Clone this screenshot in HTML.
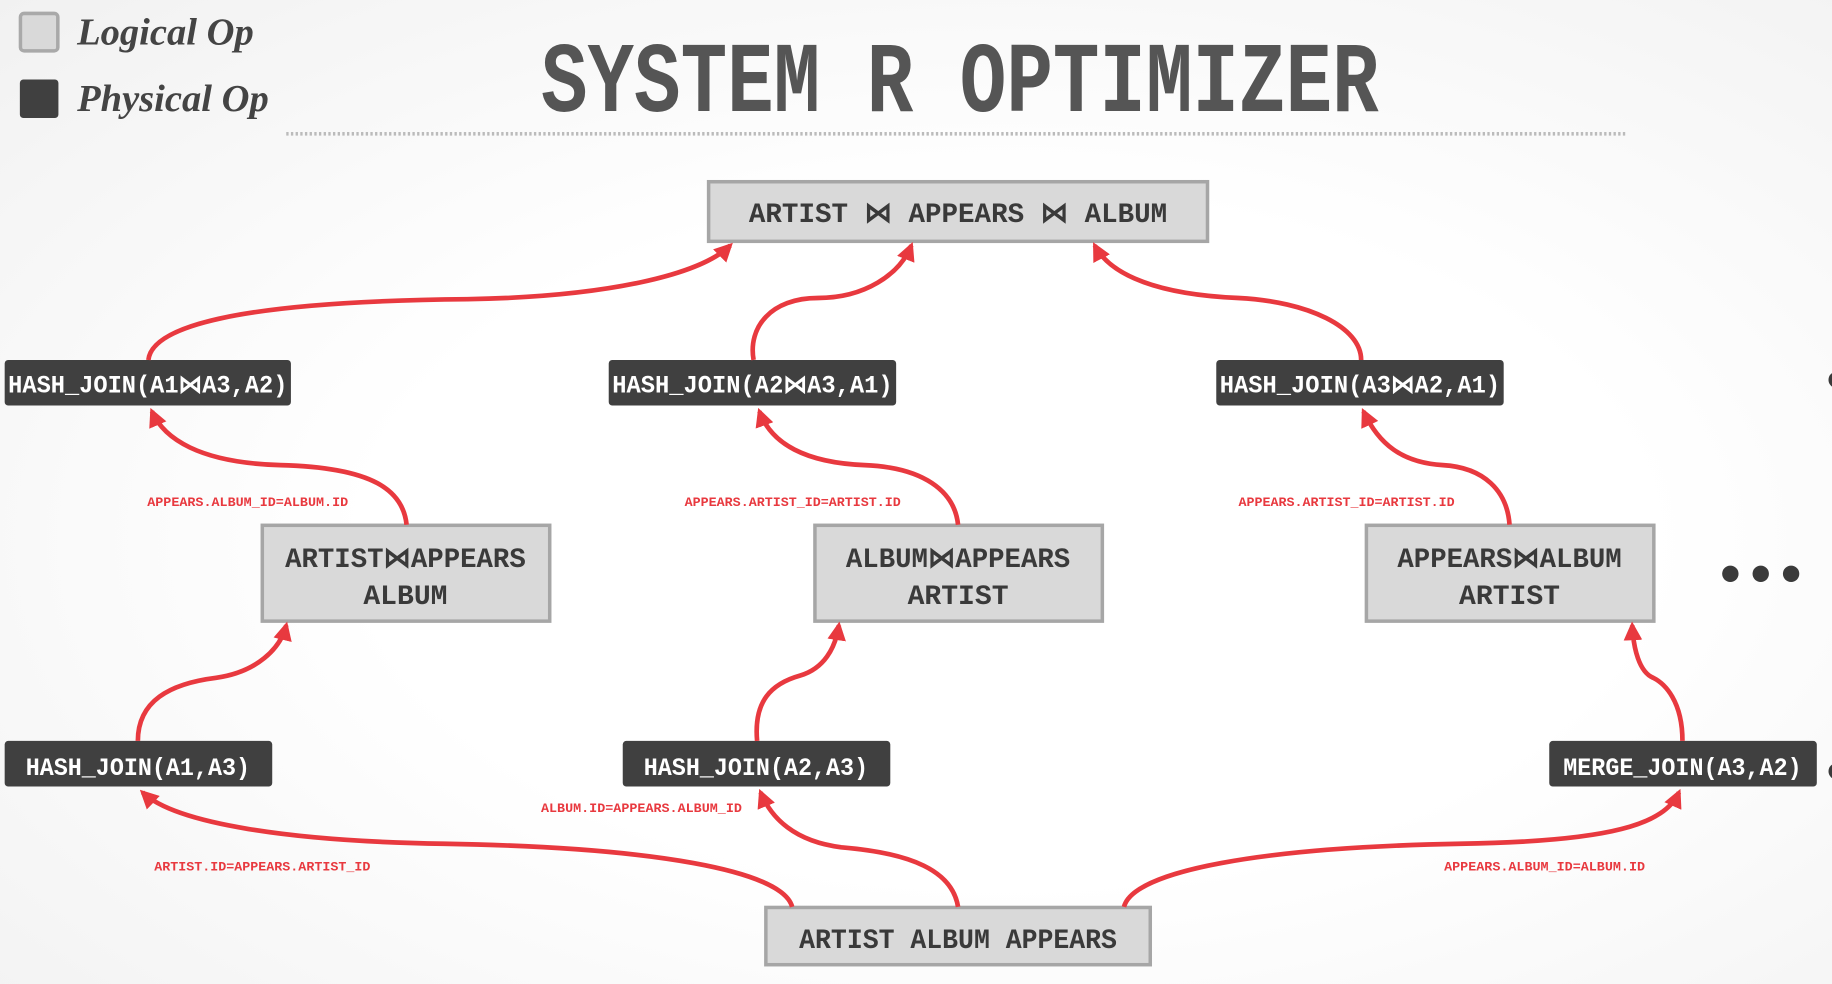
<!DOCTYPE html>
<html><head><meta charset="utf-8"><style>
html,body{margin:0;padding:0;}
body{width:1832px;height:984px;overflow:hidden;background:radial-gradient(ellipse at 55% 55%,#ffffff 45%,#f1f1f1 100%);}
svg{display:block}
</style></head><body>
<svg width="1832" height="984" viewBox="0 0 1568 842" preserveAspectRatio="none" xmlns="http://www.w3.org/2000/svg">
<defs>
<marker id="ah" viewBox="0 0 10 10" refX="8" refY="5" markerWidth="4" markerHeight="4" orient="auto" markerUnits="strokeWidth">
<path d="M0,0 L10,5 L0,10 z" fill="#e8393f"/>
</marker>
</defs>
<rect x="17.5" y="11.5" width="32" height="32" rx="3" fill="#d9d9d9" stroke="#a9a9a9" stroke-width="3"/>
<text x="66" y="38" font-family="Liberation Serif, serif" font-style="italic" font-weight="bold" font-size="33" fill="#444">Logical Op</text>
<rect x="17" y="68" width="33" height="33" rx="3" fill="#404040"/>
<text x="66" y="95" font-family="Liberation Serif, serif" font-style="italic" font-weight="bold" font-size="33" fill="#444">Physical Op</text>
<text x="463" y="95" font-family="Liberation Mono, monospace" font-weight="bold" font-size="66" fill="#555" textLength="717" lengthAdjust="spacingAndGlyphs" transform="translate(0,95) scale(1,1.3) translate(0,-95)">SYSTEM R OPTIMIZER</text>
<line x1="245" y1="114.5" x2="1392" y2="114.5" stroke="#bbb" stroke-width="3" stroke-dasharray="2,2"/>

<g font-family="Liberation Mono, monospace" font-weight="bold">
<rect x="606.5" y="155.5" width="427" height="51" fill="#d9d9d9" stroke="#a6a6a6" stroke-width="3"/>
<text x="641" y="190" font-size="24" fill="#3a3a3a" textLength="358" lengthAdjust="spacingAndGlyphs">ARTIST ⋈ APPEARS ⋈ ALBUM</text>
<rect x="4" y="308" width="245" height="39" rx="3" fill="#404040"/>
<text x="7" y="336" font-size="21" fill="#fff" textLength="239" lengthAdjust="spacingAndGlyphs">HASH_JOIN(A1⋈A3,A2)</text>
<rect x="521" y="308" width="246" height="39" rx="3" fill="#404040"/>
<text x="524" y="336" font-size="21" fill="#fff" textLength="240" lengthAdjust="spacingAndGlyphs">HASH_JOIN(A2⋈A3,A1)</text>
<rect x="1041" y="308" width="246" height="39" rx="3" fill="#404040"/>
<text x="1044" y="336" font-size="21" fill="#fff" textLength="240" lengthAdjust="spacingAndGlyphs">HASH_JOIN(A3⋈A2,A1)</text>
<rect x="224.5" y="449.5" width="246" height="82" fill="#d9d9d9" stroke="#a6a6a6" stroke-width="3"/>
<text x="347" y="485" font-size="24" fill="#3a3a3a" text-anchor="middle" textLength="206" lengthAdjust="spacingAndGlyphs">ARTIST⋈APPEARS</text>
<text x="347" y="517" font-size="24" fill="#3a3a3a" text-anchor="middle">ALBUM</text>
<rect x="697.5" y="449.5" width="246" height="82" fill="#d9d9d9" stroke="#a6a6a6" stroke-width="3"/>
<text x="820" y="485" font-size="24" fill="#3a3a3a" text-anchor="middle" textLength="192" lengthAdjust="spacingAndGlyphs">ALBUM⋈APPEARS</text>
<text x="820" y="517" font-size="24" fill="#3a3a3a" text-anchor="middle">ARTIST</text>
<rect x="1169.5" y="449.5" width="246" height="82" fill="#d9d9d9" stroke="#a6a6a6" stroke-width="3"/>
<text x="1292" y="485" font-size="24" fill="#3a3a3a" text-anchor="middle" textLength="192" lengthAdjust="spacingAndGlyphs">APPEARS⋈ALBUM</text>
<text x="1292" y="517" font-size="24" fill="#3a3a3a" text-anchor="middle">ARTIST</text>
<rect x="4" y="634" width="229" height="39" rx="3" fill="#404040"/>
<text x="118" y="663" font-size="21" fill="#fff" text-anchor="middle" textLength="192" lengthAdjust="spacingAndGlyphs">HASH_JOIN(A1,A3)</text>
<rect x="533" y="634" width="229" height="39" rx="3" fill="#404040"/>
<text x="647" y="663" font-size="21" fill="#fff" text-anchor="middle" textLength="192" lengthAdjust="spacingAndGlyphs">HASH_JOIN(A2,A3)</text>
<rect x="1326" y="634" width="229" height="39" rx="3" fill="#404040"/>
<text x="1440" y="663" font-size="21" fill="#fff" text-anchor="middle" textLength="204" lengthAdjust="spacingAndGlyphs">MERGE_JOIN(A3,A2)</text>
<rect x="655.5" y="776.5" width="329" height="49" fill="#d9d9d9" stroke="#a6a6a6" stroke-width="3"/>
<text x="820" y="811" font-size="24" fill="#3a3a3a" text-anchor="middle" textLength="272" lengthAdjust="spacingAndGlyphs">ARTIST ALBUM APPEARS</text>
<g font-size="11" fill="#e8393f">
<text x="126" y="433" textLength="172" lengthAdjust="spacingAndGlyphs">APPEARS.ALBUM_ID=ALBUM.ID</text>
<text x="586" y="433" textLength="185" lengthAdjust="spacingAndGlyphs">APPEARS.ARTIST_ID=ARTIST.ID</text>
<text x="1060" y="433" textLength="185" lengthAdjust="spacingAndGlyphs">APPEARS.ARTIST_ID=ARTIST.ID</text>
<text x="463" y="695" textLength="172" lengthAdjust="spacingAndGlyphs">ALBUM.ID=APPEARS.ALBUM_ID</text>
<text x="132" y="745" textLength="185" lengthAdjust="spacingAndGlyphs">ARTIST.ID=APPEARS.ARTIST_ID</text>
<text x="1236" y="745" textLength="172" lengthAdjust="spacingAndGlyphs">APPEARS.ALBUM_ID=ALBUM.ID</text>
</g>
</g>
<circle cx="1481" cy="491" r="7" fill="#3a3a3a"/>
<circle cx="1507" cy="491" r="7" fill="#3a3a3a"/>
<circle cx="1533" cy="491" r="7" fill="#3a3a3a"/>
<circle cx="1572" cy="325" r="7" fill="#3a3a3a"/>
<circle cx="1572" cy="660" r="7" fill="#3a3a3a"/>
<g fill="none" stroke="#e8393f" stroke-width="4" marker-end="url(#ah)">
<path d="M127,308 C130,280 200,258 400,256 C520,254 600,235 625,210"/>
<path d="M645,308 C640,280 660,255 700,255 C740,255 770,235 780,210"/>
<path d="M1165,308 C1165,280 1120,258 1060,255 C990,252 950,235 937,210"/>
<path d="M348,449 C345,420 320,400 240,398 C170,396 140,375 130,352"/>
<path d="M820,449 C817,420 790,400 740,398 C690,396 660,380 650,352"/>
<path d="M1292,449 C1290,420 1270,400 1235,398 C1200,396 1180,380 1167,352"/>
<path d="M118,634 C118,600 145,585 185,580 C220,575 240,555 245,535"/>
<path d="M648,634 C645,600 660,585 685,578 C705,572 715,555 718,535"/>
<path d="M1440,634 C1440,600 1425,585 1415,580 C1403,575 1398,555 1397,535"/>
<path d="M678,776 C670,745 560,725 380,722 C250,720 150,705 122,678"/>
<path d="M820,776 C815,745 780,730 720,725 C680,720 660,700 651,678"/>
<path d="M962,776 C970,745 1080,725 1250,722 C1380,720 1425,705 1437,678"/>
</g>
</svg>
</body></html>
